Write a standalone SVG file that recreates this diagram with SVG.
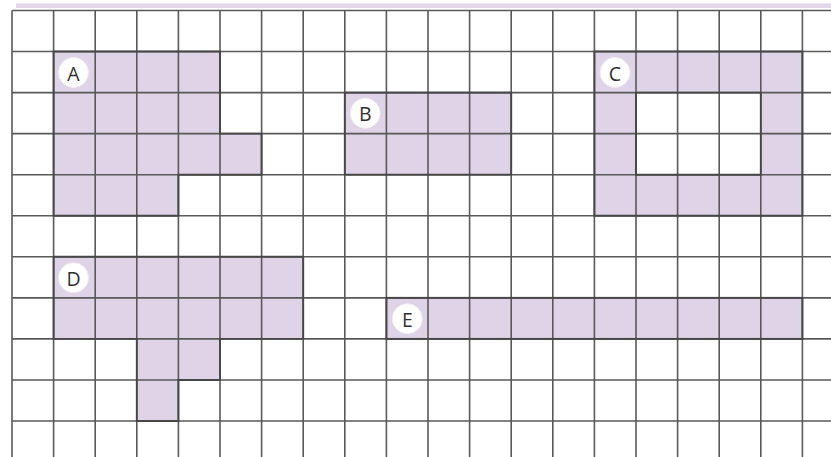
<svg xmlns="http://www.w3.org/2000/svg" width="831" height="457" viewBox="0 0 831 457">
<style>
.fill{fill:#dfd3e7;stroke:none;}
.edge{fill:none;stroke:#474747;stroke-width:1.9;stroke-linejoin:miter;}
.grid line{stroke:#595959;stroke-width:1.6;}
.badge{fill:#ffffff;stroke:#f1ecf4;stroke-width:1;}
.lbl{font-family:"Open Sans","Liberation Sans",sans-serif;font-size:19.5px;fill:#303030;text-anchor:middle;dominant-baseline:central;}
</style>
<rect x="0" y="0" width="831" height="457" fill="#ffffff"/>
<rect x="16" y="3.5" width="815" height="4.5" fill="#e2d6ea"/>
<g id="fills">
<path class="fill" d="M53.6,51.55H220V133.65H261.6V174.7H178.4V215.75H53.6Z"/>
<rect class="fill" x="344.8" y="92.6" width="166.4" height="82.1"/>
<path class="fill" fill-rule="evenodd" d="M594.4,51.55H802.4V215.75H594.4Z M636,92.6H760.8V174.7H636Z"/>
<path class="fill" d="M53.6,256.8H303.2V338.9H220V379.95H178.4V421H136.8V338.9H53.6Z"/>
<rect class="fill" x="386.4" y="297.85" width="416" height="41.05"/>
</g>
<g class="grid" id="grid">
<line x1="12" y1="10.5" x2="12" y2="457"/>
<line x1="53.6" y1="10.5" x2="53.6" y2="457"/>
<line x1="95.2" y1="10.5" x2="95.2" y2="457"/>
<line x1="136.8" y1="10.5" x2="136.8" y2="457"/>
<line x1="178.4" y1="10.5" x2="178.4" y2="457"/>
<line x1="220" y1="10.5" x2="220" y2="457"/>
<line x1="261.6" y1="10.5" x2="261.6" y2="457"/>
<line x1="303.2" y1="10.5" x2="303.2" y2="457"/>
<line x1="344.8" y1="10.5" x2="344.8" y2="457"/>
<line x1="386.4" y1="10.5" x2="386.4" y2="457"/>
<line x1="428" y1="10.5" x2="428" y2="457"/>
<line x1="469.6" y1="10.5" x2="469.6" y2="457"/>
<line x1="511.2" y1="10.5" x2="511.2" y2="457"/>
<line x1="552.8" y1="10.5" x2="552.8" y2="457"/>
<line x1="594.4" y1="10.5" x2="594.4" y2="457"/>
<line x1="636" y1="10.5" x2="636" y2="457"/>
<line x1="677.6" y1="10.5" x2="677.6" y2="457"/>
<line x1="719.2" y1="10.5" x2="719.2" y2="457"/>
<line x1="760.8" y1="10.5" x2="760.8" y2="457"/>
<line x1="802.4" y1="10.5" x2="802.4" y2="457"/>
<line x1="12" y1="10.5" x2="831" y2="10.5"/>
<line x1="12" y1="51.55" x2="831" y2="51.55"/>
<line x1="12" y1="92.6" x2="831" y2="92.6"/>
<line x1="12" y1="133.65" x2="831" y2="133.65"/>
<line x1="12" y1="174.7" x2="831" y2="174.7"/>
<line x1="12" y1="215.75" x2="831" y2="215.75"/>
<line x1="12" y1="256.8" x2="831" y2="256.8"/>
<line x1="12" y1="297.85" x2="831" y2="297.85"/>
<line x1="12" y1="338.9" x2="831" y2="338.9"/>
<line x1="12" y1="379.95" x2="831" y2="379.95"/>
<line x1="12" y1="421" x2="831" y2="421"/>
</g>
<g id="shape-A">
<path class="edge" d="M53.6,51.55H220V133.65H261.6V174.7H178.4V215.75H53.6Z"/>
<circle class="badge" cx="73.5" cy="72.5" r="15"/>
<text class="lbl" x="73.5" y="73">A</text>
</g>
<g id="shape-B">
<rect class="edge" x="344.8" y="92.6" width="166.4" height="82.1"/>
<circle class="badge" cx="365.2" cy="113.3" r="15"/>
<text class="lbl" x="365.2" y="113.8">B</text>
</g>
<g id="shape-C">
<path class="edge" d="M594.4,51.55H802.4V215.75H594.4Z M636,92.6H760.8V174.7H636Z"/>
<circle class="badge" cx="615" cy="72.5" r="15"/>
<text class="lbl" x="615" y="73">C</text>
</g>
<g id="shape-D">
<path class="edge" d="M53.6,256.8H303.2V338.9H220V379.95H178.4V421H136.8V338.9H53.6Z"/>
<circle class="badge" cx="73.5" cy="277.7" r="15"/>
<text class="lbl" x="73.5" y="278.2">D</text>
</g>
<g id="shape-E">
<rect class="edge" x="386.4" y="297.85" width="416" height="41.05"/>
<circle class="badge" cx="407.3" cy="318.7" r="15"/>
<text class="lbl" x="407.3" y="319.2">E</text>
</g>
</svg>
